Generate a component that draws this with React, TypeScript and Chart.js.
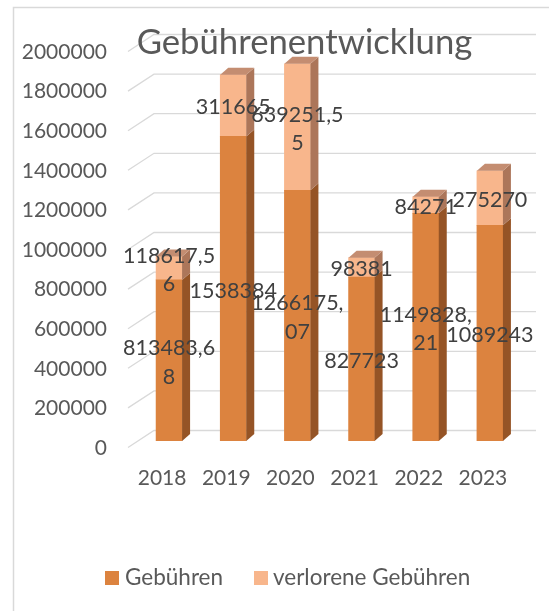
import { useEffect, useRef } from "react";
import { Chart, registerables } from "chart.js";

Chart.register(...registerables);

const categories = ["2018", "2019", "2020", "2021", "2022", "2023"];
const gebuehren = [813483.68, 1538384, 1266175.07, 827723, 1149828.21, 1089243];
const verlorene = [118617.56, 311665, 639251.55, 98381, 84271, 275270];
const seriesNames = ["Gebühren", "verlorene Gebühren"];
const titleText = "Gebührenentwicklung";
const yMin = 0;
const yMax = 2000000;
const yStep = 200000;

const FONT = "Lato, 'Noto Sans', sans-serif";
const TEXT_GRAY = "#595959";
const LABEL_GRAY = "#404040";
const GRID = "#D9D9D9";
const DARK_FRONT = "#DC833F";
const DARK_SIDE = "#955426";
const LIGHT_FRONT = "#F8B68C";
const LIGHT_SIDE = "#AC765A";
const LIGHT_TOP = "#C48D71";

const DX = 8;
const DY = 7;

function labelLines(v: number): string[] {
  const s = String(v).replace(".", ",");
  const out: string[] = [];
  for (let i = 0; i < s.length; i += 8) out.push(s.slice(i, i + 8));
  return out;
}

const excel3d = {
  id: "excel3d",
  beforeDraw(chart: any) {
    const ctx = chart.ctx;
    ctx.save();
    ctx.strokeStyle = GRID;
    ctx.lineWidth = 1.5;
    ctx.beginPath();
    ctx.moveTo(13.5, 611);
    ctx.lineTo(13.5, 7.5);
    ctx.lineTo(549, 7.5);
    ctx.stroke();
    const y = chart.scales.y;
    ctx.lineWidth = 1.3;
    for (const t of y.ticks) {
      const yb = y.getPixelForValue(t.value);
      ctx.beginPath();
      ctx.moveTo(128, yb + 6.5);
      ctx.lineTo(154, yb - 10.5);
      ctx.lineTo(536, yb - 10.5);
      ctx.stroke();
    }
    ctx.restore();
  },
  afterDatasetsDraw(chart: any) {
    const ctx = chart.ctx;
    const m0 = chart.getDatasetMeta(0).data;
    const m1 = chart.getDatasetMeta(1).data;
    ctx.save();
    const poly = (pts: number[][], fill: string) => {
      ctx.fillStyle = fill;
      ctx.beginPath();
      ctx.moveTo(pts[0][0], pts[0][1]);
      for (let k = 1; k < pts.length; k++) ctx.lineTo(pts[k][0], pts[k][1]);
      ctx.closePath();
      ctx.fill();
    };
    for (let i = 0; i < m0.length; i++) {
      const a = m0[i];
      const b = m1[i];
      const right = a.x + a.width / 2;
      const left = a.x - a.width / 2;
      poly(
        [
          [right, a.y],
          [right + DX, a.y - DY],
          [right + DX, a.base - DY],
          [right, a.base],
        ],
        DARK_SIDE
      );
      poly(
        [
          [right, b.y],
          [right + DX, b.y - DY],
          [right + DX, b.base - DY],
          [right, b.base],
        ],
        LIGHT_SIDE
      );
      poly(
        [
          [left, b.y],
          [left + DX, b.y - DY],
          [right + DX, b.y - DY],
          [right, b.y],
        ],
        LIGHT_TOP
      );
    }
    ctx.fillStyle = LABEL_GRAY;
    ctx.font = `21.5px ${FONT}`;
    ctx.textAlign = "center";
    ctx.textBaseline = "middle";
    const lineH = 28.5;
    [0, 1].forEach((d) => {
      const meta = chart.getDatasetMeta(d).data;
      const vals = chart.data.datasets[d].data as number[];
      meta.forEach((el: any, i: number) => {
        const lines = labelLines(vals[i]);
        const cy = (el.y + el.base) / 2 + 2;
        const start = cy - ((lines.length - 1) * lineH) / 2;
        lines.forEach((ln, k) => ctx.fillText(ln, el.x, start + k * lineH));
      });
    });
    ctx.restore();
  },
  afterDraw(chart: any) {
    const ctx = chart.ctx;
    ctx.save();
    ctx.fillStyle = TEXT_GRAY;
    ctx.font = `34.7px ${FONT}`;
    ctx.textAlign = "center";
    ctx.textBaseline = "alphabetic";
    ctx.fillText(titleText, 304.5, 54);
    ctx.font = `22.5px ${FONT}`;
    ctx.textAlign = "left";
    ctx.textBaseline = "middle";
    ctx.fillStyle = DARK_FRONT;
    ctx.fillRect(105, 571, 14, 14);
    ctx.fillStyle = TEXT_GRAY;
    ctx.fillText(seriesNames[0], 125, 578);
    ctx.fillStyle = LIGHT_FRONT;
    ctx.fillRect(254, 571, 14, 14);
    ctx.fillStyle = TEXT_GRAY;
    ctx.fillText(seriesNames[1], 273, 578);
    ctx.restore();
  },
};

export default function App() {
  const ref = useRef<HTMLCanvasElement | null>(null);
  useEffect(() => {
    if (!ref.current) return;
    const chart = new Chart(ref.current, {
      type: "bar",
      data: {
        labels: categories,
        datasets: [
          {
            label: seriesNames[0],
            data: gebuehren,
            backgroundColor: DARK_FRONT,
            borderWidth: 0,
            barThickness: 26,
          },
          {
            label: seriesNames[1],
            data: verlorene,
            backgroundColor: LIGHT_FRONT,
            borderWidth: 0,
            barThickness: 26,
          },
        ],
      },
      options: {
        animation: false,
        responsive: false,
        devicePixelRatio: 1,
        layout: { padding: { left: 0, top: 45, right: 27, bottom: 110 } },
        plugins: {
          legend: { display: false },
          title: { display: false },
          tooltip: { enabled: false },
        },
        scales: {
          x: {
            stacked: true,
            grid: { display: false, drawTicks: false },
            border: { display: false },
            ticks: {
              color: TEXT_GRAY,
              font: { family: FONT, size: 21 },
              padding: 25,
              labelOffset: -7,
              maxRotation: 0,
              autoSkip: false,
            },
            afterFit: (s: any) => {
              s.height = 60;
            },
          },
          y: {
            stacked: true,
            min: yMin,
            max: yMax,
            grid: { display: false, drawTicks: false },
            border: { display: false },
            ticks: {
              stepSize: yStep,
              color: TEXT_GRAY,
              font: { family: FONT, size: 21 },
              padding: 30,
              labelOffset: 7,
              callback: (v: any) => String(v),
            },
            afterFit: (s: any) => {
              s.width = 137;
            },
          },
        },
      },
      plugins: [excel3d],
    });
    return () => chart.destroy();
  }, []);
  return (
    <div style={{ position: "absolute", left: 0, top: 0, width: 549, height: 611, background: "#fff" }}>
      <canvas ref={ref} width={549} height={611} style={{ display: "block" }} />
    </div>
  );
}
